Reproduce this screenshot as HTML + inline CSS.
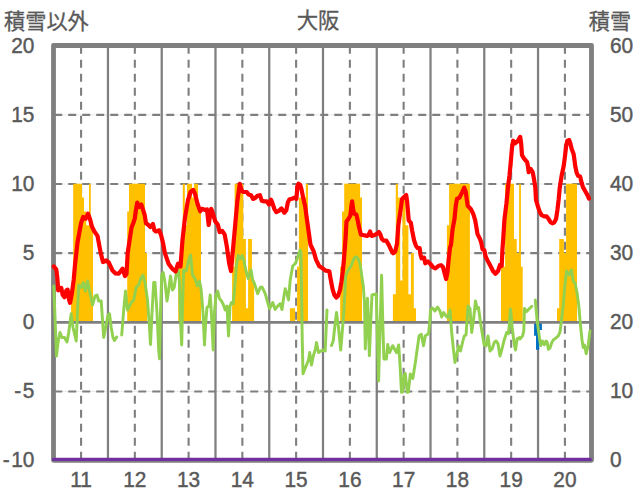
<!DOCTYPE html><html><head><meta charset="utf-8"><title>chart</title><style>html,body{margin:0;padding:0;background:#fff;font-family:"Liberation Sans",sans-serif}svg{display:block}</style></head><body><svg width="636" height="501" viewBox="0 0 636 501"><rect width="636" height="501" fill="#fff"/><path d="M53.5,114.89H591.5M53.5,184.03H591.5M53.5,253.17H591.5M53.5,391.44H591.5" stroke="#D9D9D9" stroke-width="0.55" fill="none"/><path d="M107.96,45.5V460.3M161.72,45.5V460.3M215.48,45.5V460.3M269.24,45.5V460.3M323.00,45.5V460.3M376.76,45.5V460.3M430.52,45.5V460.3M484.28,45.5V460.3M538.04,45.5V460.3" stroke="#7F7F7F" stroke-width="2.25" fill="none"/><path d="M81.08,45.8V460.3M134.84,45.8V460.3M188.60,45.8V460.3M242.36,45.8V460.3M296.12,45.8V460.3M349.88,45.8V460.3M403.64,45.8V460.3M457.40,45.8V460.3M511.16,45.8V460.3M564.92,45.8V460.3M54.24,114.89H591.5M54.24,184.03H591.5M54.24,253.17H591.5M54.24,391.44H591.5" stroke="#7F7F7F" stroke-width="2.1" stroke-dasharray="8,6" fill="none"/><rect x="53.5" y="45.5" width="538.0" height="414.8" fill="none" stroke="#7F7F7F" stroke-width="4.8" stroke-linejoin="round"/><path d="M71.1,322.0V294.3H73.2V322.0ZM73.2,322.0V183.7H82.0V322.0ZM82.0,322.0V197.6H84.0V322.0ZM84.0,322.0V211.4H86.2V322.0ZM86.2,322.0V225.2H89.0V322.0ZM89.0,322.0V183.7H90.8V322.0ZM90.8,322.0V225.2H93.0V322.0ZM127.2,322.0V211.4H129.0V322.0ZM129.0,322.0V183.7H145.0V322.0ZM145.0,322.0V252.9H147.0V322.0ZM178.2,322.0V266.7H181.0V322.0ZM181.0,322.0V239.0H182.8V322.0ZM182.8,322.0V183.7H184.8V322.0ZM184.8,322.0V225.2H187.0V322.0ZM187.0,322.0V183.7H192.0V322.0ZM192.0,322.0V197.6H194.1V322.0ZM194.1,322.0V183.7H198.0V322.0ZM198.0,322.0V211.4H201.0V322.0ZM232.1,322.0V266.7H234.6V322.0ZM234.6,322.0V183.7H243.3V322.0ZM243.3,322.0V239.0H245.9V322.0ZM245.9,322.0V308.2H248.1V322.0ZM248.1,322.0V239.0H251.9V322.0ZM251.9,322.0V280.5H254.1V322.0ZM289.9,322.0V308.2H295.0V322.0ZM297.1,322.0V266.7H298.9V322.0ZM298.9,322.0V197.6H305.8V322.0ZM305.8,322.0V183.7H308.0V322.0ZM340.2,322.0V266.7H342.1V322.0ZM342.1,322.0V211.4H344.2V322.0ZM344.2,322.0V183.7H360.1V322.0ZM360.1,322.0V197.6H362.0V322.0ZM392.9,322.0V294.3H395.8V322.0ZM395.8,322.0V183.7H397.9V322.0ZM397.9,322.0V197.6H400.2V322.0ZM400.2,322.0V280.5H402.5V322.0ZM402.5,322.0V197.6H405.5V322.0ZM405.5,322.0V225.2H408.4V322.0ZM408.4,322.0V294.3H410.9V322.0ZM410.9,322.0V252.9H413.8V322.0ZM413.8,322.0V308.2H416.0V322.0ZM446.9,322.0V225.2H449.1V322.0ZM449.1,322.0V183.7H469.9V322.0ZM501.0,322.0V266.7H505.1V322.0ZM505.1,322.0V183.7H514.0V322.0ZM514.0,322.0V239.0H516.7V322.0ZM516.7,322.0V252.9H519.1V322.0ZM519.1,322.0V183.7H520.9V322.0ZM520.9,322.0V266.7H522.7V322.0ZM557.0,322.0V308.2H559.2V322.0ZM559.2,322.0V239.0H563.9V322.0ZM563.9,322.0V252.9H566.1V322.0ZM566.1,322.0V183.7H577.0V322.0Z" fill="#FFC000"/><path d="M534.1,322.0V335.8H536.0V322.0ZM536.0,322.0V349.7H539.2V322.0ZM539.2,322.0V329.9H541.9V322.0Z" fill="#0070C0"/><path d="M53.5,322.35H591.5" stroke="#7F7F7F" stroke-width="2.75" fill="none"/><polyline points="53.8,286.0 55.3,325.0 56.5,356.0 58.0,342.5 60.0,332.5 62.0,337.5 64.5,337.5 67.0,342.0 68.7,332.5 71.2,313.7 73.0,327.5 74.2,332.5 76.2,341.0 77.5,312.5 78.7,285.0 81.2,287.5 83.2,282.5 85.5,291.0 87.5,281.0 89.5,291.0 92.5,305.0 95.0,296.0 97.0,295.0 98.7,301.0 101.2,301.0 102.5,320.0 103.7,337.5 106.2,325.0 108.0,315.0 109.5,313.7 111.2,327.5 113.0,337.5 114.5,340.5 116.7,337.0" fill="none" stroke="#92D050" stroke-width="2.95" stroke-linejoin="round" stroke-linecap="round"/><polyline points="121.7,335.0 123.7,310.0 125.5,291.0 127.5,310.0 129.5,306.0 131.2,302.5 133.7,300.0 136.2,287.5 138.7,285.0 141.2,277.5 143.0,275.0 145.0,282.5 147.5,300.0 149.5,327.5 150.5,344.5 152.0,312.5 153.7,282.5 155.0,282.5 157.0,312.5 158.7,350.0 159.5,358.7 160.5,312.5 161.7,275.0 163.2,272.5 165.0,282.5 167.0,301.0 168.7,290.0 170.5,276.0 172.5,290.0 174.2,287.5 176.2,273.7 178.0,268.7 179.5,282.5 180.7,325.0 181.7,345.0 182.7,300.0 183.7,270.0 186.2,271.0 188.7,260.0 190.5,255.0 192.5,275.0 195.0,278.7 197.5,286.0 199.5,281.0 201.2,290.0 203.0,312.5 204.5,345.0 205.5,325.0 207.0,307.5 209.0,306.0 210.2,295.0 211.5,315.0 213.2,350.0 214.5,312.5 216.0,295.0 217.7,291.0 219.5,298.7 221.5,301.0 223.5,305.0 225.2,310.0 227.0,306.0 228.5,336.0 230.0,306.0 231.5,302.5 233.2,303.7 234.7,287.5 236.5,265.0 238.2,255.5 240.2,258.7 242.2,255.5 244.0,261.0 246.0,271.0 248.2,278.7 251.0,270.0 252.7,280.0 254.5,283.7 257.7,293.7 260.2,287.5 262.0,287.0 265.2,293.7 267.7,302.5 269.5,308.7 272.7,302.5 275.2,309.5 277.7,306.0 280.2,303.7 282.0,309.5 283.5,298.7 285.2,288.7 287.0,293.7 288.5,300.0 290.2,280.0 292.7,266.0 295.2,263.7 297.7,257.5 300.2,250.0 301.0,252.5 301.5,287.5 302.2,337.5 303.0,373.7 304.5,370.0 306.5,365.0 308.5,360.0 309.7,352.5 311.5,365.0 313.5,355.0 315.2,350.0 316.5,342.5 318.5,352.5 321.0,351.0 322.7,350.0 325.2,351.0 326.0,332.5 327.0,310.0" fill="none" stroke="#92D050" stroke-width="2.95" stroke-linejoin="round" stroke-linecap="round"/><polyline points="331.5,345.5 333.2,341.0 334.7,327.5 336.5,312.5 338.5,327.5 340.7,350.0 342.2,332.5 344.0,310.0 345.7,276.3 347.6,271.2 351.3,265.6 353.9,258.6 355.7,256.8 357.6,258.0 359.5,262.4 360.8,268.7 362.0,277.5 363.3,286.3 364.5,302.5 365.3,349.0 366.5,320.0 367.5,298.3 369.4,355.8 370.8,320.0 372.0,295.0 376.3,294.0 377.5,340.0 378.6,381.0 380.0,330.0 381.6,275.3 383.0,330.0 383.9,359.0 386.4,359.0 387.7,344.5 389.6,352.6 392.7,345.7 396.5,352.6 398.7,345.0 400.2,367.7 401.5,392.3 402.5,392.0 404.0,375.3 405.3,373.4 407.2,392.3 408.3,392.0 410.3,374.0 412.8,378.4 415.3,362.7 419.1,335.7 421.4,334.4 423.5,345.7 425.4,335.7 428.5,333.8 429.8,322.0 430.5,310.0 432.5,308.0 435.0,311.0 437.5,307.0 440.0,311.0 441.7,317.0 443.7,312.5 446.0,316.0 448.0,317.5 450.0,310.0 451.7,332.5 453.5,350.0 455.0,362.5 456.7,355.0 458.5,346.0 460.5,351.0 462.5,342.5 464.2,336.0 466.0,335.0 468.0,306.0 470.0,308.7 471.7,332.5 473.5,320.0 475.5,301.0 477.2,308.7 478.5,307.5 480.5,322.5 482.5,335.0 484.2,345.0 486.0,346.0 488.0,336.0 490.0,351.0 492.2,348.7 494.2,342.5 496.0,341.0 498.0,343.7 500.0,356.0 501.7,350.0 504.2,340.0 506.7,332.5 508.5,333.7 510.5,309.0 512.2,327.5 514.2,343.7 515.5,350.0 517.2,338.7 519.7,337.5 520.0,339.1 522.6,335.9 523.8,330.8 524.5,308.4 526.4,311.6 531.8,306.2" fill="none" stroke="#92D050" stroke-width="2.95" stroke-linejoin="round" stroke-linecap="round"/><polyline points="535.3,300.1 536.9,318.0 538.5,330.8 539.8,340.4 540.8,345.5 542.0,341.0 543.0,341.6 544.3,344.8 546.2,341.0 547.2,342.3 548.4,349.3 550.0,348.0 551.9,342.3 553.5,339.7 555.8,338.1 558.3,335.9 560.0,332.1 561.5,320.0 563.2,305.0 565.0,285.0 566.5,271.0 569.0,275.0 571.5,270.0 573.2,281.0 575.2,283.7 577.0,292.5 578.7,305.0 580.2,322.5 582.0,340.0 583.2,347.5 584.5,345.0 586.2,353.7 588.2,345.0 590.0,331.0" fill="none" stroke="#92D050" stroke-width="2.95" stroke-linejoin="round" stroke-linecap="round"/><polyline points="53.8,266.4 56.3,269.6 57.3,277.7 58.2,290.3 59.4,288.4 61.3,287.8 62.6,294.7 64.5,297.2 66.4,290.3 67.6,289.7 68.9,299.0 70.1,302.8 72.0,292.5 73.7,280.0 75.0,265.0 77.5,242.5 81.2,222.5 83.2,217.0 85.7,218.7 88.0,213.7 90.0,218.9 91.9,226.5 94.4,231.5 97.5,235.9 98.8,242.8 100.7,252.9 103.0,262.0 106.2,260.5 108.7,262.5 112.5,270.5 115.5,273.5 118.7,273.7 122.5,268.7 125.0,276.0 126.5,274.0 127.7,252.9 129.6,240.3 131.5,227.7 133.4,222.7 134.7,218.9 135.9,210.1 137.2,202.6 139.1,207.0 141.3,204.5 142.8,208.9 144.7,215.2 146.0,223.3 147.9,224.6 150.4,227.1 152.9,224.0 154.4,230.3 156.0,231.5 159.2,230.3 161.1,235.3 163.0,242.8 164.8,252.9 168.7,264.0 172.5,269.0 175.5,271.5 178.0,263.7 180.5,266.5 182.5,240.0 185.0,217.5 188.0,200.0 190.5,192.0 193.2,190.0 195.0,193.7 197.5,203.7 200.2,211.3 202.0,208.8 205.2,210.0 207.0,209.4 208.7,225.0 210.0,215.7 211.2,208.8 212.7,212.6 215.2,221.4 217.8,224.5 219.6,232.0 222.2,230.8 224.7,234.6 227.0,247.5 229.0,262.5 231.0,271.0 232.7,252.5 235.2,225.0 237.3,201.4 239.8,183.8 241.7,190.8 243.5,192.0 246.7,192.0 248.6,194.5 251.1,195.2 253.0,198.9 254.9,198.3 257.4,195.8 259.9,195.2 261.8,200.8 264.3,201.4 266.8,201.4 269.0,204.6 271.0,199.6 272.5,203.3 274.4,209.0 276.3,212.1 278.8,210.9 281.5,208.4 284.4,212.8 286.3,210.3 287.8,202.7 289.5,199.2 292.0,198.7 294.5,197.7 296.4,198.9 297.4,186.4 298.5,183.8 300.2,184.8 301.4,188.9 303.3,198.3 305.2,206.5 306.7,217.8 308.3,229.1 310.5,244.8 313.6,251.1 316.1,259.9 319.3,266.2 322.4,268.1 325.6,270.6 329.3,271.2 330.6,278.8 332.5,288.8 334.4,295.1 336.3,297.6 338.1,295.7 340.0,290.1 341.5,281.3 342.8,271.2 343.8,261.2 344.8,248.6 345.7,236.0 346.5,221.4 348.4,218.9 350.3,215.7 351.3,206.9 352.1,201.3 353.4,210.7 354.3,213.8 356.3,214.5 357.8,220.8 359.3,228.3 360.9,234.6 364.1,235.2 367.2,235.9 368.5,235.2 370.1,231.5 371.6,235.9 374.2,235.2 376.7,234.0 378.9,232.1 380.4,234.6 381.9,239.0 383.8,240.7 386.4,240.7 388.9,245.1 391.4,250.7 393.3,253.2 395.2,251.4 397.0,243.8 398.3,225.3 400.2,212.7 402.1,198.9 404.0,197.0 406.2,195.1 407.1,201.4 408.0,211.5 408.7,220.3 410.9,222.8 412.1,230.3 414.0,240.0 415.9,245.7 417.8,248.2 419.7,248.2 420.6,255.1 421.6,258.3 424.1,257.6 425.3,263.3 427.9,261.4 430.4,263.9 432.9,267.1 435.4,268.3 438.6,265.8 441.1,265.2 443.0,267.1 444.8,274.0 446.1,279.0 447.4,272.7 448.6,260.2 450.0,247.6 451.0,245.0 452.6,229.1 454.5,219.0 455.7,206.4 457.0,198.9 459.5,197.6 462.0,192.6 464.2,187.6 465.8,192.0 466.7,198.9 467.7,205.8 470.8,209.0 473.3,214.0 475.2,220.3 476.5,227.8 477.5,234.1 480.0,239.0 481.3,242.8 482.5,249.1 484.4,250.3 485.7,256.6 487.5,260.4 490.0,265.0 493.0,271.0 495.5,273.7 498.0,271.0 500.0,265.0 501.7,266.0 502.4,250.3 503.3,237.7 504.5,218.9 506.4,203.8 508.2,185.4 509.5,175.3 510.7,162.7 512.0,147.6 513.2,140.7 515.1,143.2 517.6,141.4 520.2,136.9 521.2,143.9 522.0,155.2 523.9,158.3 527.1,162.1 528.0,166.5 528.7,172.2 530.8,169.0 532.7,172.2 534.0,179.1 535.3,187.3 536.0,200.0 537.9,206.3 539.7,211.9 541.6,215.1 544.2,216.4 546.7,216.4 548.6,218.9 550.4,222.0 552.3,223.3 554.2,222.6 556.1,218.9 557.4,210.1 558.6,200.0 559.8,187.3 561.7,175.3 563.6,166.5 564.8,157.7 566.1,146.4 567.3,140.7 569.2,140.1 570.5,143.9 571.7,148.9 573.6,153.9 574.3,158.8 575.3,166.4 576.6,172.6 578.1,175.8 580.1,176.4 581.6,182.7 582.9,187.1 585.4,191.5 587.9,195.9 589.0,198.6" fill="none" stroke="#FF0000" stroke-width="4.2" stroke-linejoin="round" stroke-linecap="round"/><path d="M53.5,459.4H590.3" stroke="#7030A0" stroke-width="3.2" stroke-linecap="round" fill="none"/><text font-family="Liberation Sans, sans-serif" font-size="22.4" fill="#595959" stroke="#595959" stroke-width="0.45" transform="translate(34.40,52.90) scale(0.931,1)" text-anchor="end">20</text><text font-family="Liberation Sans, sans-serif" font-size="22.4" fill="#595959" stroke="#595959" stroke-width="0.45" transform="translate(34.40,121.87) scale(0.931,1)" text-anchor="end">15</text><text font-family="Liberation Sans, sans-serif" font-size="22.4" fill="#595959" stroke="#595959" stroke-width="0.45" transform="translate(34.40,190.85) scale(0.931,1)" text-anchor="end">10</text><text font-family="Liberation Sans, sans-serif" font-size="22.4" fill="#595959" stroke="#595959" stroke-width="0.45" transform="translate(34.40,259.82) scale(0.931,1)" text-anchor="end">5</text><text font-family="Liberation Sans, sans-serif" font-size="22.4" fill="#595959" stroke="#595959" stroke-width="0.45" transform="translate(34.40,328.79) scale(0.931,1)" text-anchor="end">0</text><text font-family="Liberation Sans, sans-serif" font-size="22.4" fill="#595959" stroke="#595959" stroke-width="0.45" transform="translate(34.40,397.77) scale(0.931,1)" text-anchor="end">-<tspan dx="1.72">5</tspan></text><text font-family="Liberation Sans, sans-serif" font-size="22.4" fill="#595959" stroke="#595959" stroke-width="0.45" transform="translate(34.40,466.74) scale(0.931,1)" text-anchor="end">-<tspan dx="1.72">10</tspan></text><text font-family="Liberation Sans, sans-serif" font-size="22.4" fill="#595959" stroke="#595959" stroke-width="0.45" transform="translate(610.00,52.90) scale(0.931,1)" text-anchor="start">60</text><text font-family="Liberation Sans, sans-serif" font-size="22.4" fill="#595959" stroke="#595959" stroke-width="0.45" transform="translate(610.00,121.87) scale(0.931,1)" text-anchor="start">50</text><text font-family="Liberation Sans, sans-serif" font-size="22.4" fill="#595959" stroke="#595959" stroke-width="0.45" transform="translate(610.00,190.85) scale(0.931,1)" text-anchor="start">40</text><text font-family="Liberation Sans, sans-serif" font-size="22.4" fill="#595959" stroke="#595959" stroke-width="0.45" transform="translate(610.00,259.82) scale(0.931,1)" text-anchor="start">30</text><text font-family="Liberation Sans, sans-serif" font-size="22.4" fill="#595959" stroke="#595959" stroke-width="0.45" transform="translate(610.00,328.79) scale(0.931,1)" text-anchor="start">20</text><text font-family="Liberation Sans, sans-serif" font-size="22.4" fill="#595959" stroke="#595959" stroke-width="0.45" transform="translate(610.00,397.77) scale(0.931,1)" text-anchor="start">10</text><text font-family="Liberation Sans, sans-serif" font-size="22.4" fill="#595959" stroke="#595959" stroke-width="0.45" transform="translate(610.00,466.74) scale(0.931,1)" text-anchor="start">0</text><text font-family="Liberation Sans, sans-serif" font-size="22.4" fill="#595959" stroke="#595959" stroke-width="0.45" transform="translate(81.08,487.10) scale(0.931,1)" text-anchor="middle">11</text><text font-family="Liberation Sans, sans-serif" font-size="22.4" fill="#595959" stroke="#595959" stroke-width="0.45" transform="translate(134.84,487.10) scale(0.931,1)" text-anchor="middle">12</text><text font-family="Liberation Sans, sans-serif" font-size="22.4" fill="#595959" stroke="#595959" stroke-width="0.45" transform="translate(188.60,487.10) scale(0.931,1)" text-anchor="middle">13</text><text font-family="Liberation Sans, sans-serif" font-size="22.4" fill="#595959" stroke="#595959" stroke-width="0.45" transform="translate(242.36,487.10) scale(0.931,1)" text-anchor="middle">14</text><text font-family="Liberation Sans, sans-serif" font-size="22.4" fill="#595959" stroke="#595959" stroke-width="0.45" transform="translate(296.12,487.10) scale(0.931,1)" text-anchor="middle">15</text><text font-family="Liberation Sans, sans-serif" font-size="22.4" fill="#595959" stroke="#595959" stroke-width="0.45" transform="translate(349.88,487.10) scale(0.931,1)" text-anchor="middle">16</text><text font-family="Liberation Sans, sans-serif" font-size="22.4" fill="#595959" stroke="#595959" stroke-width="0.45" transform="translate(403.64,487.10) scale(0.931,1)" text-anchor="middle">17</text><text font-family="Liberation Sans, sans-serif" font-size="22.4" fill="#595959" stroke="#595959" stroke-width="0.45" transform="translate(457.40,487.10) scale(0.931,1)" text-anchor="middle">18</text><text font-family="Liberation Sans, sans-serif" font-size="22.4" fill="#595959" stroke="#595959" stroke-width="0.45" transform="translate(511.16,487.10) scale(0.931,1)" text-anchor="middle">19</text><text font-family="Liberation Sans, sans-serif" font-size="22.4" fill="#595959" stroke="#595959" stroke-width="0.45" transform="translate(564.92,487.10) scale(0.931,1)" text-anchor="middle">20</text><text x="4" y="28.5" font-family="&quot;Liberation Sans&quot;, &quot;Noto Sans CJK JP&quot;, sans-serif" font-size="21.2" fill="#595959" stroke="#595959" stroke-width="0.3" text-anchor="start">積雪以外</text><text x="588.8" y="28.5" font-family="&quot;Liberation Sans&quot;, &quot;Noto Sans CJK JP&quot;, sans-serif" font-size="21.2" fill="#595959" stroke="#595959" stroke-width="0.3" text-anchor="start">積雪</text><text x="296.65" y="27.7" font-family="&quot;Liberation Sans&quot;, &quot;Noto Sans CJK JP&quot;, sans-serif" font-size="21.4" fill="#595959" stroke="#595959" stroke-width="0.3" text-anchor="start">大阪</text></svg></body></html>
